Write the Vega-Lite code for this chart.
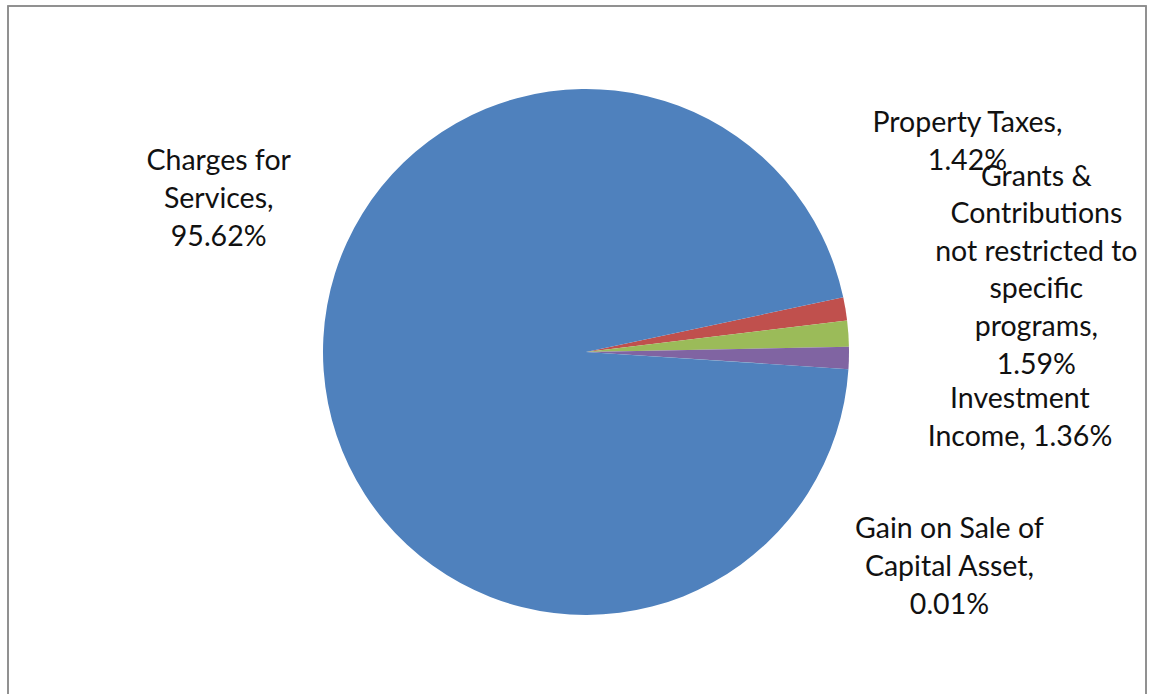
{
  "$schema": "https://vega.github.io/schema/vega-lite/v6.json",
  "width": 1138,
  "height": 700,
  "autosize": {"type": "none"},
  "padding": {"left": 8, "top": 6, "right": 3, "bottom": 0},
  "background": "white",
  "view": {"stroke": "#8a8a8a", "strokeWidth": 1.5},
  "datasets": {
    "slices": [
      {"source": "Property Taxes", "pct": 1.42, "order": 1, "label": "Property Taxes,\n1.42%"},
      {"source": "Grants & Contributions not restricted to specific programs", "pct": 1.59, "order": 2, "label": "Grants &\nContributions\nnot restricted to\nspecific\nprograms,\n1.59%"},
      {"source": "Investment Income", "pct": 1.36, "order": 3, "label": "Investment\nIncome, 1.36%"},
      {"source": "Gain on Sale of Capital Asset", "pct": 0.01, "order": 4, "label": "Gain on Sale of\nCapital Asset,\n0.01%"},
      {"source": "Charges for Services", "pct": 95.62, "order": 5, "label": "Charges for\nServices,\n95.62%"}
    ],
    "frame": [{"name": "chart area"}]
  },
  "layer": [
    {
      "data": {"name": "frame"},
      "mark": {"type": "rect", "fill": null, "stroke": "#8a8a8a", "strokeWidth": 1.5},
      "encoding": {}
    },
    {
      "data": {"name": "slices"},
      "layer": [
        {
          "mark": {"type": "arc", "outerRadius": 263, "xOffset": 9, "yOffset": -4},
          "encoding": {
            "theta": {"field": "pct", "type": "quantitative", "stack": true, "scale": {"range": [1.3614, 7.6446]}},
            "order": {"field": "order", "type": "quantitative"},
            "color": {
              "field": "source",
              "type": "nominal",
              "legend": null,
              "scale": {
                "domain": ["Property Taxes", "Grants & Contributions not restricted to specific programs", "Investment Income", "Gain on Sale of Capital Asset", "Charges for Services"],
                "range": ["#C0504D", "#9BBB59", "#8064A2", "#4BACC6", "#4F81BD"]
              }
            }
          }
        },
        {
          "mark": {"type": "text", "radius": 263, "xOffset": 9, "yOffset": -4, "dx": 122, "dy": -186, "font": "Lato", "fontSize": 28.5, "lineHeight": 38, "lineBreak": "\n", "align": "center", "baseline": "middle", "color": "#111111"},
          "encoding": {
            "theta": {"field": "pct", "type": "quantitative", "stack": true},
            "order": {"field": "order", "type": "quantitative"},
            "text": {"condition": {"test": "datum.order === 1", "field": "label"}, "value": ""}
          }
        },
        {
          "mark": {"type": "text", "radius": 263, "xOffset": 9, "yOffset": -4, "dx": 188, "dy": -157, "font": "Lato", "fontSize": 28.5, "lineHeight": 37.6, "lineBreak": "\n", "align": "center", "baseline": "middle", "color": "#111111"},
          "encoding": {
            "theta": {"field": "pct", "type": "quantitative", "stack": true},
            "order": {"field": "order", "type": "quantitative"},
            "text": {"condition": {"test": "datum.order === 2", "field": "label"}, "value": ""}
          }
        },
        {
          "mark": {"type": "text", "radius": 263, "xOffset": 9, "yOffset": -4, "dx": 171, "dy": 41, "font": "Lato", "fontSize": 28.5, "lineHeight": 38, "lineBreak": "\n", "align": "center", "baseline": "middle", "color": "#111111"},
          "encoding": {
            "theta": {"field": "pct", "type": "quantitative", "stack": true},
            "order": {"field": "order", "type": "quantitative"},
            "text": {"condition": {"test": "datum.order === 3", "field": "label"}, "value": ""}
          }
        },
        {
          "mark": {"type": "text", "radius": 263, "xOffset": 9, "yOffset": -4, "dx": 101, "dy": 160, "font": "Lato", "fontSize": 28.5, "lineHeight": 38, "lineBreak": "\n", "align": "center", "baseline": "middle", "color": "#111111"},
          "encoding": {
            "theta": {"field": "pct", "type": "quantitative", "stack": true},
            "order": {"field": "order", "type": "quantitative"},
            "text": {"condition": {"test": "datum.order === 4", "field": "label"}, "value": ""}
          }
        },
        {
          "mark": {"type": "text", "radius": 263, "xOffset": 9, "yOffset": -4, "dx": -105, "dy": -210, "font": "Lato", "fontSize": 28.5, "lineHeight": 38, "lineBreak": "\n", "align": "center", "baseline": "middle", "color": "#111111"},
          "encoding": {
            "theta": {"field": "pct", "type": "quantitative", "stack": true},
            "order": {"field": "order", "type": "quantitative"},
            "text": {"condition": {"test": "datum.order === 5", "field": "label"}, "value": ""}
          }
        }
      ]
    }
  ]
}
